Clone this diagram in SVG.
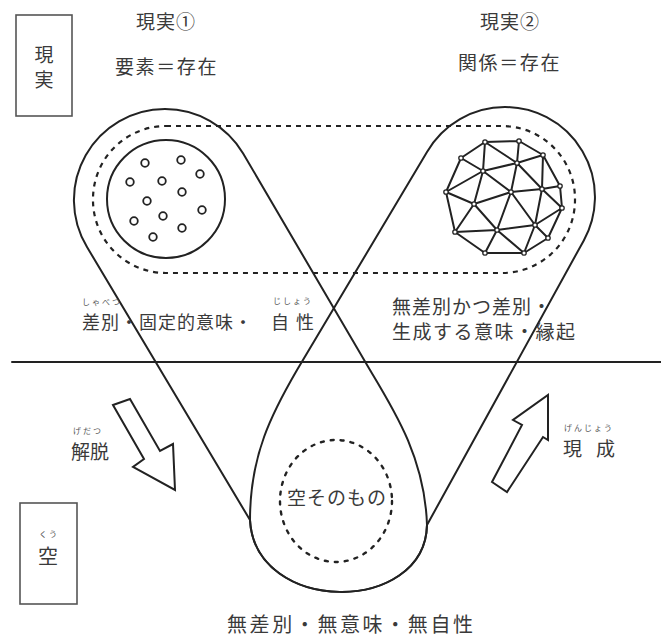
<svg xmlns="http://www.w3.org/2000/svg" width="661" height="640" viewBox="0 0 661 640">
<style>
.ln{fill:none;stroke:#222;stroke-width:2;stroke-linejoin:round;stroke-linecap:round}
.dash{fill:none;stroke:#222;stroke-width:2.2;stroke-dasharray:5 5}
.dot{fill:none;stroke:#222;stroke-width:2.4;stroke-dasharray:3 7;stroke-linecap:round}
.box{fill:#fff;stroke:#555;stroke-width:1.6}
.sc{fill:#fff;stroke:#222;stroke-width:1.8}
.vx{fill:#fff;stroke:#222;stroke-width:1.3}
.arr{fill:#fff;stroke:#222;stroke-width:2;stroke-linejoin:miter}
.t{font-family:"Noto Sans CJK JP","Noto Sans CJK SC",sans-serif;fill:#3a3a3a}
.r{font-family:"Noto Sans CJK JP","Noto Sans CJK SC",sans-serif;fill:#555;font-size:8px;letter-spacing:2px}
</style>
<rect width="661" height="640" fill="#fff"/>

<g id="connectors">
  <line class="ln" x1="12" y1="362" x2="661" y2="362"/>
  <path id="loop-left" class="ln" d="M87,247 L250,520 C255,615 425,615 427,525 C425,460 396,413 370,370 L243,153.2 A91,91 0 0 0 165,109 A91,91 0 0 0 87,247 Z"/>
  <path id="loop-right" class="ln" d="M583.8,240.4 L427,525 C425,615 255,615 250,520 C250,455 272,413 297,370 L427,152 A90,90 0 0 1 505,107 A90,90 0 0 1 583.8,240.4 Z"/>
  <rect class="dash" x="93" y="126" width="482" height="147" rx="73" ry="73"/>
</g>

<g id="box-genjitsu">
  <rect class="box" x="16" y="15" width="56" height="101"/>
  <text class="t" x="44" y="62" font-size="19" text-anchor="middle">現</text>
  <text class="t" x="44" y="87" font-size="19" text-anchor="middle">実</text>
</g>

<g id="box-ku">
  <rect class="box" x="20" y="503" width="57" height="101"/>
  <text class="r" x="49" y="537" text-anchor="middle" font-size="7" letter-spacing="1">くう</text>
  <text class="t" x="48" y="564" font-size="20" text-anchor="middle">空</text>
</g>

<g id="title-1">
  <text class="t" x="166" y="29" font-size="19" text-anchor="middle" letter-spacing="1">現実①</text>
  <text class="t" x="115" y="74" font-size="19" letter-spacing="1.6">要素＝存在</text>
</g>

<g id="title-2">
  <text class="t" x="510" y="29" font-size="19" text-anchor="middle" letter-spacing="1">現実②</text>
  <text class="t" x="458" y="70" font-size="19" letter-spacing="1.6">関係＝存在</text>
</g>

<g id="elements-circle">
  <circle class="ln" cx="166" cy="199" r="59"/>
  <circle class="sc" cx="145" cy="163" r="3.8"/>
  <circle class="sc" cx="181" cy="160" r="3.8"/>
  <circle class="sc" cx="200" cy="174" r="3.8"/>
  <circle class="sc" cx="130" cy="182" r="3.8"/>
  <circle class="sc" cx="162" cy="181" r="3.8"/>
  <circle class="sc" cx="182" cy="192" r="3.8"/>
  <circle class="sc" cx="147" cy="201" r="3.8"/>
  <circle class="sc" cx="202" cy="210" r="3.8"/>
  <circle class="sc" cx="134" cy="221" r="3.8"/>
  <circle class="sc" cx="163" cy="216" r="3.8"/>
  <circle class="sc" cx="182" cy="228" r="3.8"/>
  <circle class="sc" cx="153" cy="237" r="3.8"/>
</g>

<g id="relations-net">
  <path class="ln" stroke-width="1.8" d="M485,142 L519,141 L543,155 L560,186 L562,208 L548,238 L524,253 L485,253 L455,232 L446,192 L461,158 Z
  M485,142 L483,171 M485,142 L517,163 M519,141 L517,163 M461,158 L483,171 M483,171 L517,163 M517,163 L543,155
  M446,192 L483,171 M483,171 L474,204 M483,171 L511,192 M517,163 L511,192 M517,163 L542,189 M543,155 L542,189
  M446,192 L474,204 M474,204 L511,192 M511,192 L542,189 M542,189 L560,186 M542,189 L562,208
  M511,192 L497,230 M511,192 L535,225 M542,189 L535,225 M474,204 L455,232 M474,204 L497,230
  M455,232 L497,230 M497,230 L535,225 M535,225 L562,208 M535,225 L548,238
  M497,230 L485,253 M497,230 L524,253 M535,225 L524,253"/>
  <g>
    <circle class="vx" cx="485" cy="142" r="2.2"/><circle class="vx" cx="519" cy="141" r="2.2"/>
    <circle class="vx" cx="543" cy="155" r="2.2"/><circle class="vx" cx="461" cy="158" r="2.2"/>
    <circle class="vx" cx="517" cy="163" r="2.2"/><circle class="vx" cx="483" cy="171" r="2.2"/>
    <circle class="vx" cx="446" cy="192" r="2.2"/><circle class="vx" cx="511" cy="192" r="2.2"/>
    <circle class="vx" cx="542" cy="189" r="2.2"/><circle class="vx" cx="560" cy="186" r="2.2"/>
    <circle class="vx" cx="474" cy="204" r="2.2"/><circle class="vx" cx="562" cy="208" r="2.2"/>
    <circle class="vx" cx="497" cy="230" r="2.2"/><circle class="vx" cx="535" cy="225" r="2.2"/>
    <circle class="vx" cx="455" cy="232" r="2.2"/><circle class="vx" cx="548" cy="238" r="2.2"/>
    <circle class="vx" cx="485" cy="253" r="2.2"/><circle class="vx" cx="524" cy="253" r="2.2"/>
  </g>
</g>

<g id="label-left">
  <text class="r" x="82" y="305">しゃべつ</text>
  <text class="r" x="273" y="304">じしょう</text>
  <text class="t" x="82" y="329" font-size="18" letter-spacing="1">差別・固定的意味・</text>
  <text class="t" x="271" y="329" font-size="18" letter-spacing="7">自性</text>
</g>

<g id="label-right">
  <text class="t" x="392" y="314" font-size="19" letter-spacing="1">無差別かつ差別・</text>
  <text class="t" x="392" y="339" font-size="19" letter-spacing="1.5">生成する意味・縁起</text>
</g>

<g id="arrow-gedatsu">
  <polygon class="arr" points="113,405 130,399 160,451 173,444 175,490 133,467 144,459"/>
  <text class="r" x="73" y="434" font-size="7" letter-spacing="4.5">げだつ</text>
  <text class="t" x="71" y="459" font-size="19">解脱</text>
</g>

<g id="arrow-genjo">
  <polygon class="arr" points="492,482 507,492 543,437 548,440 548,395 513,420 522,425"/>
  <text class="r" x="564" y="431" letter-spacing="2.4">げんじょう</text>
  <text class="t" x="563" y="456" font-size="19" letter-spacing="14">現成</text>
</g>

<g id="ku-itself">
  <ellipse class="dot" cx="336" cy="501" rx="56" ry="61"/>
  <text class="t" x="287" y="505" font-size="19" letter-spacing="1">空そのもの</text>
</g>

<g id="label-bottom">
  <text class="t" x="227" y="632" font-size="20" letter-spacing="2.6">無差別・無意味・無自性</text>
</g>
</svg>
